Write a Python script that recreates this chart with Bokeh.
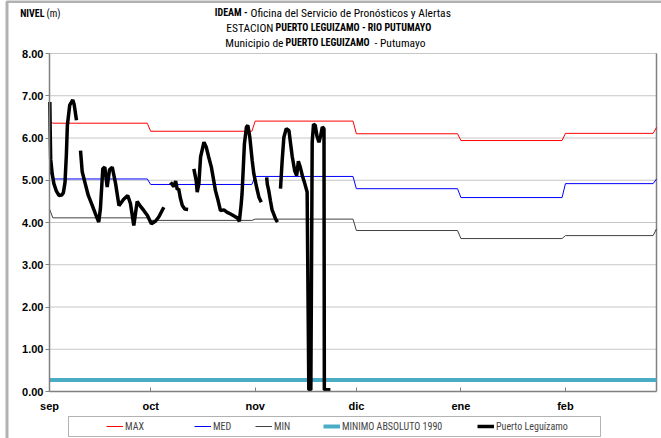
import numpy as np
from bokeh.plotting import figure
from bokeh.models import (Range1d, FixedTicker, Label, Legend, LegendItem,
                          BoxAnnotation, NumeralTickFormatter)
from bokeh.embed import file_html
from bokeh.resources import INLINE

# ---------------- data ----------------
month_labels = ["sep", "oct", "nov", "dic", "ene", "feb"]
month_start = [0, 30, 61, 91, 122, 153]
month_end = [29, 60, 90, 121, 152, 180]

max_vals = [6.35, 6.16, 6.40, 6.10, 5.94, 6.11]
max_edges = [6.40, 6.25]
med_vals = [5.03, 4.90, 5.09, 4.80, 4.59, 4.92]
med_edges = [5.23, 5.03]
min_vals = [4.11, 4.05, 4.08, 3.81, 3.62, 3.69]
min_edges = [4.32, 3.85]
minimo_absoluto_1990 = 0.27

nan = float("nan")
pl_day = [0.1, 0.2, 0.35, 0.8, 1.3, 2.0, 2.8, 3.6, 4.1, 4.6, 5.0, 5.3, 6.0, 6.9, 7.3, 8.0, nan,
          9.2, 9.7, 10.5, 11.5, 12.7, 13.6, 14.6, 15.1, 15.8, 16.4, 17.1, 17.8, 18.6, 19.6, 20.6,
          22.0, 23.2, 24.0, 25.0, 26.0, 27.0, 28.0, 29.0, 30.2, 31.4, 32.4, 33.9, nan,
          35.9, 36.9, 37.4, 37.9, 38.3, 38.8, 39.4, 40.1, 41.1, nan,
          42.8, 43.5, 43.8, 44.3, 44.8, 45.8, 46.5, 47.2, 48.0, 48.7, 49.2, 50.0, 50.7, 51.7,
          52.7, 53.7, 55.0, 55.7, 56.3, 56.8, 57.1, 57.8, 58.4, 58.8, 59.4, 60.1, 60.6, 61.4,
          62.1, 62.8, nan,
          64.4, 64.6, 65.0, 65.5, 66.0, 66.5, 67.0, 67.6, nan,
          68.5, 69.0, 69.5, 70.2, 71.0, 71.5, 72.0, 72.7, 73.3, 73.8, 74.4, 75.0, 75.6, 76.4,
          76.9, 77.5, 77.9, 78.3, 78.8, 79.3, 79.9, 80.4, 80.9, 81.4, 81.5, 83.3]
pl_level = [6.85, 6.20, 5.50, 5.15, 4.92, 4.75, 4.64, 4.65, 4.70, 4.95, 5.60, 6.30, 6.78, 6.90, 6.80, 6.42, nan,
            5.70, 5.20, 4.95, 4.64, 4.40, 4.21, 4.01, 4.33, 5.27, 5.31, 4.84, 5.25, 5.31, 4.92, 4.40,
            4.55, 4.64, 4.45, 3.93, 4.50, 4.38, 4.28, 4.17, 3.97, 4.03, 4.13, 4.36, nan,
            4.95, 4.85, 4.98, 4.78, 4.80, 4.58, 4.40, 4.32, 4.31, nan,
            5.27, 4.99, 4.72, 4.92, 5.55, 5.90, 5.78, 5.55, 5.31, 4.99, 4.76, 4.52, 4.28, 4.30,
            4.24, 4.20, 4.14, 4.11, 4.03, 4.40, 4.68, 5.86, 6.26, 6.30, 6.02, 5.47, 5.15, 4.84,
            4.60, 4.48, nan,
            5.07, 4.90, 4.76, 4.52, 4.30, 4.20, 4.09, 4.01, nan,
            4.80, 5.47, 6.02, 6.22, 6.18, 5.86, 5.55, 5.23, 5.11, 5.45, 5.30, 5.10, 4.95, 4.72,
            0.04, 0.04, 5.90, 6.33, 6.30, 6.05, 5.90, 6.05, 6.26, 6.22, 0.04, 0.04]

y_ticks = [0, 1, 2, 3, 4, 5, 6, 7, 8]

title_1 = ["IDEAM -", "Oficina del Servicio de Pronósticos y Alertas"]
title_2 = ["ESTACION", "PUERTO LEGUIZAMO - RIO PUTUMAYO"]
title_3 = ["Municipio de", "PUERTO LEGUIZAMO", "- Putumayo"]
y_title = ["NIVEL", "(m)"]
series_names = ["MAX", "MED", "MIN", "MINIMO ABSOLUTO 1990", "Puerto Leguízamo"]


def monthly_line(vals, edges):
    xs, ys = [month_start[0]], [edges[0]]
    for i, v in enumerate(vals):
        s = month_start[i] + (1 if i == 0 else 0)
        e = month_end[i] - (1 if i == len(vals) - 1 else 0)
        xs += [s, e]
        ys += [v, v]
    xs.append(month_end[-1])
    ys.append(edges[1])
    return xs, ys


# ---------------- geometry (pixels) ----------------
W, H = 661, 438
PL, PR, PT, PB = 49, 656, 53, 391          # plot area edges on the canvas
D0, D1 = month_start[0], month_end[-1]
V0, V1 = y_ticks[0], y_ticks[-1]
PXX = (PR - PL) / (D1 - D0)
PXY = (PB - PT) / (V1 - V0)


def X(px):
    return D0 + (px - PL) / PXX


def Y(py):
    return V1 + (PT - py) / PXY


AXIS_FONT = "Liberation Sans"
NARROW = "Liberation Sans Narrow, Roboto Condensed, Liberation Sans"

p = figure(width=W, height=H, title=None,
           x_range=Range1d(X(0), X(W)), y_range=Range1d(Y(H), Y(0)),
           output_backend="svg", toolbar_location=None,
           min_border=0, min_border_left=0, min_border_right=0,
           min_border_top=0, min_border_bottom=0)
p.outline_line_color = None
p.background_fill_color = "white"
p.border_fill_color = "white"
p.grid.visible = False

# axes pinned to the plot-area edges
p.xaxis.fixed_location = V0
p.yaxis.fixed_location = D0
p.xaxis.bounds = (D0, D1)
p.yaxis.bounds = (V0, V1)
p.yaxis.ticker = FixedTicker(ticks=y_ticks)
p.yaxis.formatter = NumeralTickFormatter(format="0.00")
p.xaxis.ticker = FixedTicker(ticks=month_start)
p.xaxis.major_label_overrides = {d: m for d, m in zip(month_start, month_labels)}
for ax in (p.xaxis[0], p.yaxis[0]):
    ax.axis_line_color = "#808080"
    ax.axis_line_width = 1.5
    ax.major_tick_line_color = "#808080"
    ax.minor_tick_line_color = None
    ax.major_label_text_font = AXIS_FONT
    ax.major_label_text_font_style = "bold"
    ax.major_label_text_font_size = "11px"
    ax.major_label_text_color = "black"
p.yaxis.major_tick_out = 4
p.yaxis.major_tick_in = 0
p.yaxis.major_label_standoff = 2
p.xaxis.major_tick_out = 0
p.xaxis.major_tick_in = 4
p.xaxis.major_label_standoff = 8

# dotted horizontal grid and right edge of the plot area
gy = y_ticks[1:]
p.segment(x0=[D0] * len(gy), x1=[D1] * len(gy), y0=gy, y1=gy,
          line_color="#8c8c8c", line_dash="1 1", line_width=1)
p.line([D1, D1], [V0, V1], line_color="#808080", line_width=1.5)

STYLE = {
    "MAX": dict(line_color="#ff0000", line_width=1),
    "MED": dict(line_color="#0000ff", line_width=1),
    "MIN": dict(line_color="#404040", line_width=1),
    "MINIMO ABSOLUTO 1990": dict(line_color="#4bacc6", line_width=4),
    "Puerto Leguízamo": dict(line_color="black", line_width=3.5),
}

mx, my = monthly_line(max_vals, max_edges)
dx, dy = monthly_line(med_vals, med_edges)
nx, ny = monthly_line(min_vals, min_edges)
rs = [p.line(mx, my, **STYLE["MAX"]),
      p.line(dx, dy, **STYLE["MED"]),
      p.line(nx, ny, **STYLE["MIN"]),
      p.line([D0, D1], [minimo_absoluto_1990] * 2, **STYLE["MINIMO ABSOLUTO 1990"]),
      p.line(pl_day, pl_level, **STYLE["Puerto Leguízamo"])]

# outer chart border (top and left visible in the crop)
p.add_layout(BoxAnnotation(left=X(6.5), right=X(W + 20), top=Y(1), bottom=Y(H + 20),
                           fill_alpha=0, line_color="black", line_width=3))

# legend box + one legend entry per series, placed like the original
p.add_layout(BoxAnnotation(left=X(68), right=X(600), top=Y(416), bottom=Y(436),
                           fill_alpha=0, line_color="black", line_width=1))
legend_x = [106, 194, 255, 323, 477]
for n, r, lx in zip(series_names, rs, legend_x):
    p.add_layout(Legend(items=[LegendItem(label=n, renderers=[r])],
                        orientation="horizontal", location=(lx - 4, 2),
                        border_line_alpha=0, background_fill_alpha=0,
                        padding=4, spacing=0, glyph_width=17, glyph_height=12,
                        label_standoff=2, label_height=12,
                        label_text_font=NARROW, label_text_font_size="10px"))


def lab(text, px, py, align, bold, size):
    p.add_layout(Label(x=X(px), y=Y(py), text=text, text_align=align, text_baseline="middle",
                       text_font=NARROW, text_font_size=size,
                       text_font_style="bold" if bold else "normal", text_color="black"))


lab(title_1[0], 247, 12, "right", True, "10px")
lab(title_1[1], 250, 12, "left", False, "11.5px")
lab(title_2[0], 273, 27, "right", False, "11.5px")
lab(title_2[1], 275, 27, "left", True, "10px")
lab(title_3[0], 283, 42, "right", False, "11.5px")
lab(title_3[1], 285, 42, "left", True, "10px")
lab(title_3[2], 374, 42, "left", False, "11.5px")
lab(y_title[0], 44, 13, "right", True, "10px")
lab(y_title[1], 46, 13, "left", False, "10px")

open("out.html", "w").write(file_html(p, INLINE))
